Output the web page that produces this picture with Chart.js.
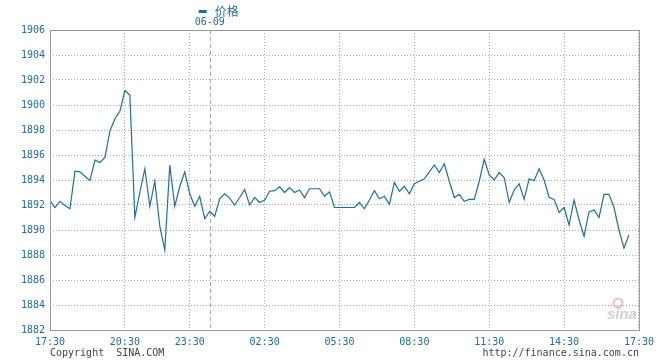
<!DOCTYPE html>
<html>
<head>
<meta charset="utf-8">
<script src="https://cdn.jsdelivr.net/npm/chart.js@4/dist/chart.umd.min.js"></script>
<style>
  html, body { margin: 0; padding: 0; background: #fff; }
  #wrap { width: 660px; height: 360px; }
</style>
</head>
<body>
<div id="wrap"><canvas id="price-chart" width="660" height="360"></canvas></div>
<script>
// 数据 (06-08 17:30 ~ 06-09 17:30, 每格一个采样点)
const seriesName = '价格';
const dateLabel = '06-09';
const dateSlot = 32;
const slotCount = 119;
const tickSlots = [0, 15, 28, 43, 58, 73, 88, 103, 118];
const tickTexts = ['17:30', '20:30', '23:30', '02:30', '05:30', '08:30', '11:30', '14:30', '17:30'];
const prices = [
    1892.35, 1891.8, 1892.3, 1891.95, 1891.7, 1894.7, 1894.65, 1894.3, 1893.95, 1895.6,
    1895.4, 1895.8, 1897.9, 1898.9, 1899.5, 1901.15, 1900.8, 1891.0, 1893.0, 1894.9,
    1891.9, 1893.9, 1890.3, 1888.4, 1895.2, 1891.9, 1893.5, 1894.65, 1892.9, 1891.9,
    1892.7, 1890.9, 1891.5, 1891.1, 1892.5, 1892.9, 1892.55, 1892.0, 1892.6, 1893.25,
    1892.0, 1892.6, 1892.2, 1892.4, 1893.1, 1893.15, 1893.45, 1893.0, 1893.4, 1893.0,
    1893.2, 1892.6, 1893.3, 1893.3, 1893.3, 1892.7, 1893.05, 1891.8, 1891.8, 1891.8,
    1891.8, 1891.8, 1892.2, 1891.7, 1892.4, 1893.15, 1892.5, 1892.7, 1892.05, 1893.8,
    1893.1, 1893.5, 1892.9, 1893.7, 1893.9, 1894.1, 1894.65, 1895.2, 1894.6, 1895.3,
    1893.9, 1892.6, 1892.85, 1892.3, 1892.45, 1892.45, 1893.9, 1895.65, 1894.4, 1894.0,
    1894.6, 1894.2, 1892.2, 1893.2, 1893.7, 1892.45, 1894.1, 1893.95, 1894.9, 1894.0,
    1892.6, 1892.45, 1891.4, 1891.8, 1890.4, 1892.4, 1890.8, 1889.5, 1891.45, 1891.6,
    1891.0, 1892.85, 1892.85, 1891.8, 1890.0, 1888.55, 1889.6
];
const yMin = 1882;
const yMax = 1906;
const yStep = 2;

const blue = '#1b6ea8';
const lineColor = '#1f6f9f';
const gridColor = '#aaaaaa';
const monoFont = '"DejaVu Sans Mono", monospace';

// 边框, 日期分隔线, 图例和版权文字
const decorPlugin = {
    id: 'decor',
    beforeDatasetsDraw(chart) {
        const { ctx, chartArea, scales } = chart;
        const x = Math.round(scales.x.getPixelForValue(dateSlot)) + 0.5;
        ctx.save();
        ctx.strokeStyle = '#a8a8a8';
        ctx.lineWidth = 1;
        ctx.setLineDash([4, 3]);
        ctx.beginPath();
        ctx.moveTo(x, chartArea.top);
        ctx.lineTo(x, chartArea.bottom);
        ctx.stroke();
        ctx.setLineDash([]);

        // 新浪水印
        ctx.globalAlpha = 0.4;
        ctx.strokeStyle = '#e06060';
        ctx.lineWidth = 2;
        ctx.beginPath();
        ctx.arc(chartArea.right - 21, chartArea.bottom - 27, 4.5, 0, Math.PI * 2);
        ctx.stroke();
        ctx.fillStyle = '#888';
        ctx.font = 'italic bold 15px "Liberation Sans", sans-serif';
        ctx.textAlign = 'right';
        ctx.textBaseline = 'alphabetic';
        ctx.fillText('sina', chartArea.right - 2, chartArea.bottom - 11);
        ctx.restore();
    },
    afterDraw(chart) {
        const { ctx, chartArea, scales } = chart;
        ctx.save();
        ctx.strokeStyle = '#999';
        ctx.lineWidth = 1;
        ctx.strokeRect(chartArea.left + 0.5, chartArea.top + 0.5,
            chartArea.right - chartArea.left, chartArea.bottom - chartArea.top);

        const dx = scales.x.getPixelForValue(dateSlot);
        ctx.fillStyle = blue;
        ctx.font = '10px ' + monoFont;
        ctx.textAlign = 'center';
        ctx.textBaseline = 'middle';
        ctx.fillText(dateLabel, dx, 22);

        // 图例
        ctx.fillRect(dx - 11, 10, 8, 3);
        ctx.font = '12px "Noto Sans CJK SC", sans-serif';
        ctx.textAlign = 'left';
        ctx.fillText(seriesName, dx + 5, 11);

        ctx.fillStyle = '#444';
        ctx.font = '10px ' + monoFont;
        ctx.textAlign = 'left';
        ctx.fillText('Copyright  SINA.COM', chartArea.left, 353);
        ctx.textAlign = 'right';
        ctx.fillText('http://finance.sina.com.cn', chartArea.right, 353);
        ctx.restore();
    }
};

const slots = Array.from({ length: slotCount }, (_, i) => i);

new Chart(document.getElementById('price-chart'), {
    type: 'line',
    data: {
        labels: slots,
        datasets: [{
            label: seriesName,
            data: prices,
            borderColor: lineColor,
            borderWidth: 1.2,
            pointRadius: 0,
            tension: 0,
            fill: false
        }]
    },
    options: {
        responsive: false,
        animation: false,
        devicePixelRatio: 1,
        layout: { padding: { top: 30, right: 20, left: 0, bottom: 0 } },
        plugins: {
            legend: { display: false },
            tooltip: { enabled: false }
        },
        scales: {
            x: {
                type: 'category',
                offset: false,
                afterFit: (scale) => { scale.height = 30; },
                border: { display: false, dash: [1, 2] },
                grid: {
                    color: gridColor,
                    drawTicks: false
                },
                ticks: {
                    autoSkip: false,
                    maxRotation: 0,
                    padding: 6,
                    color: blue,
                    font: { family: monoFont, size: 10 },
                    callback: (value, index) => {
                        const k = tickSlots.indexOf(index);
                        return k >= 0 ? tickTexts[k] : null;
                    }
                }
            },
            y: {
                min: yMin,
                max: yMax,
                afterFit: (scale) => { scale.width = 50; },
                border: { display: false, dash: [1, 2] },
                grid: {
                    color: gridColor,
                    drawTicks: false
                },
                ticks: {
                    stepSize: yStep,
                    padding: 5,
                    color: blue,
                    font: { family: monoFont, size: 10 },
                    callback: (value) => String(value)
                }
            }
        }
    },
    plugins: [decorPlugin]
});
</script>
</body>
</html>
